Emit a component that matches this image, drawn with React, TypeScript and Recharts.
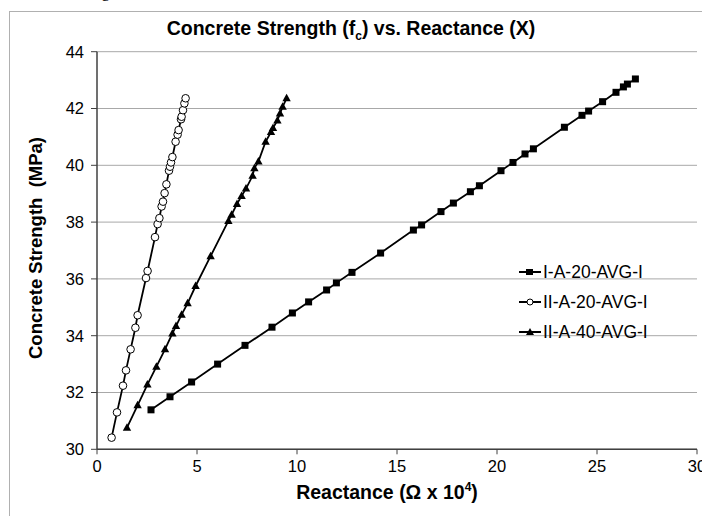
import React from 'react';
import { ScatterChart, Scatter, XAxis, YAxis, CartesianGrid, Legend } from 'recharts';

const seriesNames = ['I-A-20-AVG-I', 'II-A-20-AVG-I', 'II-A-40-AVG-I'];

const xTicks = [0, 5, 10, 15, 20, 25, 30];
const yTicks = [30, 32, 34, 36, 38, 40, 42, 44];

const iA20X = [2.7, 3.65, 4.73, 6.03, 7.4, 8.75, 9.77, 10.58, 11.48, 11.97, 12.75, 14.18, 15.82, 16.23, 17.2, 17.82, 18.67, 19.12, 20.2, 20.8, 21.4, 21.82, 23.37, 24.25, 24.58, 25.28, 25.95, 26.32, 26.52, 26.92];
const iA20Y = [31.39, 31.85, 32.37, 33.0, 33.66, 34.3, 34.8, 35.19, 35.61, 35.86, 36.23, 36.91, 37.72, 37.9, 38.37, 38.67, 39.07, 39.28, 39.81, 40.1, 40.4, 40.58, 41.34, 41.76, 41.91, 42.24, 42.57, 42.76, 42.86, 43.04];

const iiA20X = [0.73, 1.0, 1.3, 1.45, 1.68, 1.92, 2.03, 2.45, 2.53, 2.9, 3.03, 3.12, 3.23, 3.3, 3.38, 3.47, 3.6, 3.65, 3.7, 3.77, 3.93, 4.03, 4.08, 4.2, 4.23, 4.3, 4.37, 4.43];
const iiA20Y = [30.41, 31.3, 32.24, 32.78, 33.52, 34.28, 34.72, 36.03, 36.28, 37.47, 37.93, 38.14, 38.55, 38.72, 39.02, 39.33, 39.81, 39.95, 40.1, 40.29, 40.83, 41.08, 41.24, 41.62, 41.71, 41.94, 42.18, 42.36];

const iiA40X = [1.5, 2.03, 2.52, 2.97, 3.4, 3.77, 3.95, 4.23, 4.53, 4.93, 5.68, 6.57, 6.73, 7.0, 7.23, 7.45, 7.78, 7.87, 8.07, 8.43, 8.7, 8.8, 9.02, 9.15, 9.28, 9.48];
const iiA40Y = [30.76, 31.55, 32.28, 32.91, 33.52, 34.08, 34.34, 34.74, 35.14, 35.75, 36.8, 38.04, 38.26, 38.64, 38.92, 39.18, 39.63, 39.9, 40.13, 40.83, 41.17, 41.31, 41.58, 41.82, 42.06, 42.36];

const toPoints = (xs: number[], ys: number[]) => xs.map((x, i) => ({ x, y: ys[i] }));

const dataIA20 = toPoints(iA20X, iA20Y);
const dataIIA20 = toPoints(iiA20X, iiA20Y);
const dataIIA40 = toPoints(iiA40X, iiA40Y);

const FONT = '"Liberation Sans", Arial, sans-serif';

const SquareShape = (p: any) => (
  <rect x={p.cx - 3.5} y={p.cy - 3.5} width={7} height={7} fill="#000" />
);
const CircleShape = (p: any) => (
  <circle cx={p.cx} cy={p.cy} r={3.8} fill="#fff" stroke="#000" strokeWidth={1} />
);
const TriangleShape = (p: any) => (
  <polygon points={`${p.cx},${p.cy - 4.5} ${p.cx + 4.2},${p.cy + 3} ${p.cx - 4.2},${p.cy + 3}`} fill="#000" />
);

const legendMarker = (i: number) => {
  if (i === 0) return <rect x={7} y={3} width={7} height={6} fill="#000" />;
  if (i === 1) return <circle cx={11} cy={6} r={3} fill="#fff" stroke="#000" strokeWidth={1} />;
  return <polygon points="11,2 15,9 7,9" fill="#000" />;
};

const LegendContent = () => (
  <div style={{ fontFamily: FONT, fontSize: 17.5, color: '#000' }}>
    {seriesNames.map((n, i) => (
      <div key={n} style={{ display: 'flex', alignItems: 'center', height: 30 }}>
        <svg width={23} height={12} style={{ marginRight: 1 }}>
          <line x1={0} y1={6} x2={22} y2={6} stroke="#000" strokeWidth={2} />
          {legendMarker(i)}
        </svg>
        <span>{n}</span>
      </div>
    ))}
  </div>
);

const tickStyle = { fill: '#000', stroke: 'none', fontSize: 16.5, fontFamily: FONT };

export default function App() {
  return (
    <div style={{ position: 'absolute', left: 0, top: 0, width: 702, height: 516, overflow: 'hidden', background: '#fff' }}>
      <div style={{ position: 'absolute', left: 0, top: -18, fontFamily: '"Liberation Serif", serif', fontSize: 17, whiteSpace: 'nowrap', color: '#000' }}>
        Concrete Strength vs. Reactance for the concrete mixtures in the table
      </div>
      <div style={{ position: 'absolute', left: 9, top: 11, width: 720, height: 540, border: '1px solid #b0b0b0' }} />
      <div style={{ position: 'absolute', left: 0, top: 17, width: 702, textAlign: 'center', fontFamily: FONT, fontWeight: 'bold', fontSize: 19.5, color: '#000', whiteSpace: 'nowrap', lineHeight: '22px' }}>
        Concrete Strength (f<sub style={{ fontSize: 12, lineHeight: 0 }}>c</sub>) vs. Reactance (X)
      </div>
      <div style={{ position: 'absolute', left: 0, top: 0 }}>
        <ScatterChart width={702} height={516} margin={{ top: 51.7, right: 5, bottom: 36.7, left: 37 }}>
          <CartesianGrid vertical={false} stroke="#a8a8a8" strokeWidth={1} />
          <XAxis
            type="number"
            dataKey="x"
            domain={[0, 30]}
            ticks={xTicks}
            interval={0}
            height={30}
            tickSize={5}
            tickMargin={6}
            stroke="#000"
            axisLine={{ stroke: '#404040', strokeWidth: 1.5 }}
            tickLine={{ stroke: '#404040' }}
            tick={tickStyle}
            allowDataOverflow
            label={{
              content: () => (
                <text x={387} y={499} textAnchor="middle" fontFamily={FONT} fontWeight="bold" fontSize={19.5} fill="#000">
                  Reactance (Ω x 10<tspan dy={-8} fontSize={12}>4</tspan><tspan dy={8}>)</tspan>
                </text>
              ),
            }}
          />
          <YAxis
            type="number"
            dataKey="y"
            domain={[30, 44]}
            ticks={yTicks}
            interval={0}
            width={60}
            tickSize={6}
            tickMargin={7}
            stroke="#000"
            axisLine={{ stroke: '#404040', strokeWidth: 1.5 }}
            tickLine={{ stroke: '#404040' }}
            tick={tickStyle}
            allowDataOverflow
            label={{
              content: () => (
                <text
                  x={0}
                  y={0}
                  transform="translate(42,248) rotate(-90)"
                  textAnchor="middle"
                  fontFamily={FONT}
                  fontWeight="bold"
                  fontSize={18.5}
                  fill="#000"
                  style={{ whiteSpace: 'pre' }}
                >
                  Concrete Strength  (MPa)
                </text>
              ),
            }}
          />
          <Legend
            layout="vertical"
            align="center"
            verticalAlign="middle"
            content={LegendContent}
            wrapperStyle={{ position: 'absolute', left: 519, top: 257, width: 180 }}
          />
          <Scatter
            name={seriesNames[0]}
            data={dataIA20}
            line={{ stroke: '#000', strokeWidth: 1.8 }}
            lineType="joint"
            shape={SquareShape}
            isAnimationActive={false}
          />
          <Scatter
            name={seriesNames[1]}
            data={dataIIA20}
            line={{ stroke: '#000', strokeWidth: 1.8 }}
            lineType="joint"
            shape={CircleShape}
            isAnimationActive={false}
          />
          <Scatter
            name={seriesNames[2]}
            data={dataIIA40}
            line={{ stroke: '#000', strokeWidth: 1.8 }}
            lineType="joint"
            shape={TriangleShape}
            isAnimationActive={false}
          />
        </ScatterChart>
      </div>
    </div>
  );
}
